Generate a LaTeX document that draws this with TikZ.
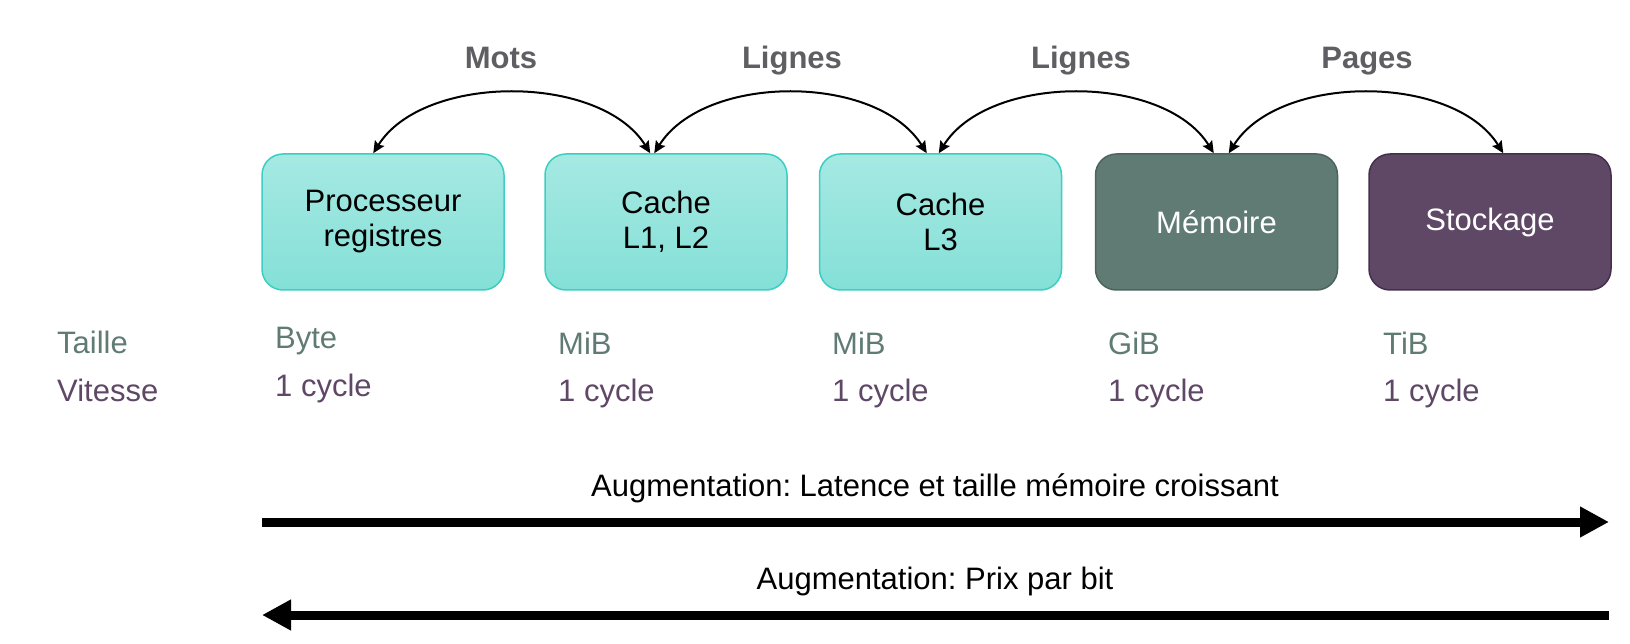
\documentclass[tikz,border=0pt]{standalone}
\usepackage{fontspec}
\setmainfont{Liberation Sans}
\usetikzlibrary{arrows.meta}
\definecolor{tealtop}{HTML}{A6E9E3}
\definecolor{tealbot}{HTML}{84E0D7}
\definecolor{tealborder}{HTML}{3CCEC2}
\definecolor{memfill}{HTML}{5F7B73}
\definecolor{memborder}{HTML}{4C645D}
\definecolor{stofill}{HTML}{5F4766}
\definecolor{stoborder}{HTML}{45304B}
\definecolor{labelgray}{HTML}{5F5F63}
\definecolor{sizec}{HTML}{5F7B73}
\definecolor{speedc}{HTML}{5F4766}
\frenchspacing
\begin{document}
\begin{tikzpicture}[x=1pt,y=-1pt,
  box/.style={rounded corners=21pt, minimum width=242pt, minimum height=136pt,
    line width=1.5pt, align=center, font=\fontsize{31}{35}\selectfont, inner sep=0pt},
  tealbox/.style={box, draw=tealborder, top color=tealtop, bottom color=tealbot, text=black},
  membox/.style={box, draw=memborder, fill=memfill, text=white},
  stobox/.style={box, draw=stoborder, fill=stofill, text=white},
  lbl/.style={anchor=base, inner sep=0pt, text=labelgray, font=\fontsize{31}{35}\selectfont\bfseries},
  txt/.style={anchor=base west, inner sep=0pt, font=\fontsize{31}{35}\selectfont},
  sizet/.style={txt, text=sizec},
  speedt/.style={txt, text=speedc},
  arc/.style={line width=2pt, {Stealth[length=12pt,width=11pt,inset=2pt]}-{Stealth[length=12pt,width=11pt,inset=2pt]}},
  big/.style={line width=9pt, -{Triangle[length=29pt,width=29pt]}},
  augt/.style={anchor=base, inner sep=0pt, font=\fontsize{31}{35}\selectfont}
]
\useasboundingbox (0,0) rectangle (1630,644);

\node[tealbox] (p) at (383,222) {Processeur\\registres};
\node[tealbox] (c12) at (666,222) {Cache\\L1, L2};
\node[tealbox] (c3) at (940.5,222) {Cache\\L3};
\node[membox] (m) at (1216.5,222) {Mémoire};
\node[stobox] (s) at (1490,222) {Stockage};

\draw[arc] ([xshift=112pt]p.north west) .. controls +(50,-80) and +(-50,-80) .. ([xshift=106pt]c12.north west);
\draw[arc] ([xshift=110pt]c12.north west) .. controls +(50,-80) and +(-50,-80) .. ([xshift=108pt]c3.north west);
\draw[arc] ([xshift=120pt]c3.north west) .. controls +(50,-80) and +(-50,-80) .. ([xshift=119pt]m.north west);
\draw[arc] ([xshift=134pt]m.north west) .. controls +(50,-80) and +(-50,-80) .. ([xshift=135pt]s.north west);

\node[lbl] (l1) at (501,69) {Mots};
\node[lbl] (l2) at (792,69) {Lignes};
\node[lbl] (l3) at (1081,69) {Lignes};
\node[lbl] (l4) at (1367,69) {Pages};

\node[sizet] (taille) at (57,353) {Taille};
\node[speedt] (vitesse) at (57,401) {Vitesse};
\node[sizet] (s1) at (275,348) {Byte};
\node[speedt] (v1) at (275,396) {1 cycle};
\node[sizet] (s2) at (558,354.5) {MiB};
\node[speedt] (v2) at (558,401) {1 cycle};
\node[sizet] (s3) at (832,354.5) {MiB};
\node[speedt] (v3) at (832,401) {1 cycle};
\node[sizet] (s4) at (1108,354.5) {GiB};
\node[speedt] (v4) at (1108,401) {1 cycle};
\node[sizet] (s5) at (1383,354.5) {TiB};
\node[speedt] (v5) at (1383,401) {1 cycle};

\node[augt] (aug1) at (935,496) {Augmentation: Latence et taille mémoire croissant};
\node[augt] (aug2) at (935,589) {Augmentation: Prix par bit};

\coordinate (a1s) at (262,522);
\coordinate (a1e) at (1609,522);
\coordinate (a2s) at (1609,615);
\coordinate (a2e) at (262,615);
\draw[big] (a1s) -- (a1e);
\draw[big] (a2s) -- (a2e);
\end{tikzpicture}
\end{document}
